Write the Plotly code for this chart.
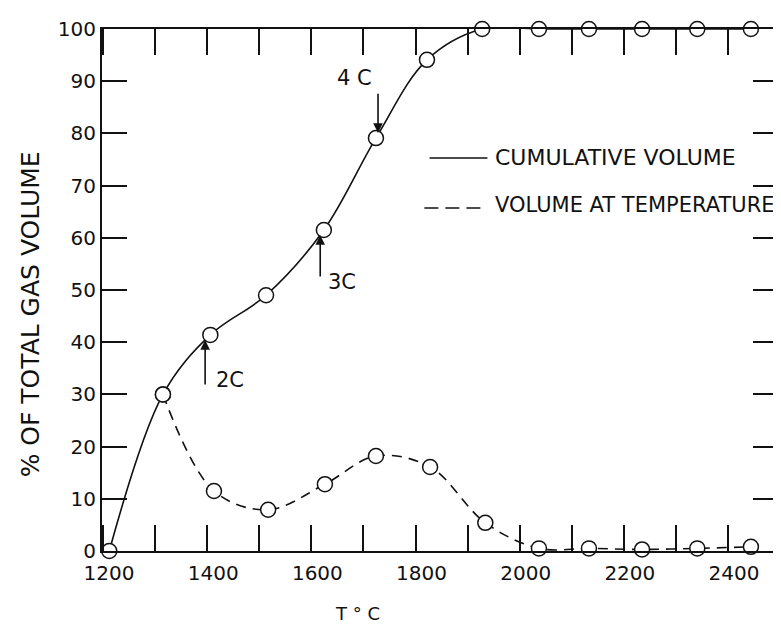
import plotly.graph_objects as go

# Cumulative gas volume (% of total) vs temperature
cum_temp = [1212, 1315, 1406, 1513, 1624, 1724, 1822, 1928, 2037, 2133, 2235, 2341, 2444]
cum_vol = [0, 30, 41.4, 49.0, 61.5, 79.1, 94.1, 100, 100, 100, 100, 100, 100]

# Volume released at each temperature
step_temp = [1315, 1413, 1517, 1626, 1724, 1828, 1934, 2037, 2133, 2235, 2341, 2444]
step_vol = [30, 11.5, 7.9, 12.8, 18.2, 16.1, 5.4, 0.5, 0.5, 0.3, 0.5, 0.8]

x_ticks = list(range(1200, 2500, 100))
x_labels = [str(v) if v % 200 == 0 else "" for v in x_ticks]
y_ticks = list(range(0, 101, 10))
y_labels = [str(v) for v in y_ticks]

# event markers: (label, arrow tip x, tip y, tail x, tail y, text x, text y)
events = [
    ("2C", 1396, 40.4, 1396, 31.6, 1444, 32.8),
    ("3C", 1617, 60.5, 1617, 52.3, 1659, 51.5),
    ("4 C", 1728, 80.1, 1728, 87.9, 1682, 90.6),
]

FONT = "DejaVu Sans"
BLACK = "#111111"

fig = go.Figure()
marker = dict(symbol="circle", size=15, color="white", line=dict(color=BLACK, width=1.5))
fig.add_trace(go.Scatter(x=cum_temp, y=cum_vol, mode="lines+markers",
                         line=dict(color=BLACK, width=1.6, shape="spline", smoothing=1.0),
                         marker=marker, cliponaxis=False, showlegend=False))
fig.add_trace(go.Scatter(x=step_temp, y=step_vol, mode="lines+markers",
                         line=dict(color=BLACK, width=1.6, shape="spline", smoothing=1.0, dash="10px,7px"),
                         marker=marker, cliponaxis=False, showlegend=False))

annotations = []
for lab, tx, ty, ax, ay, lx, ly in events:
    annotations.append(dict(x=tx, y=ty, ax=ax, ay=ay, xref="x", yref="y", axref="x", ayref="y",
                            text="", showarrow=True, arrowhead=2, arrowsize=1.2, arrowwidth=1.6,
                            arrowcolor=BLACK, standoff=0))
    annotations.append(dict(x=lx, y=ly, xref="x", yref="y", text=lab, showarrow=False,
                            font=dict(family=FONT, size=21, color=BLACK)))

# legend (hand drawn like the original)
annotations.append(dict(x=1949, y=75.3, xref="x", yref="y", text="CUMULATIVE VOLUME", showarrow=False,
                        xanchor="left", font=dict(family=FONT, size=22, color=BLACK)))
annotations.append(dict(x=1949, y=66.2, xref="x", yref="y", text="VOLUME AT TEMPERATURE", showarrow=False,
                        xanchor="left", font=dict(family=FONT, size=21, color=BLACK)))
annotations.append(dict(x=-0.106, y=0.454, xref="paper", yref="paper", text="% OF TOTAL GAS VOLUME",
                        textangle=-90, showarrow=False, xanchor="center", yanchor="middle",
                        font=dict(family=FONT, size=25, color=BLACK)))
annotations.append(dict(x=0.378, y=-0.12, xref="paper", yref="paper", text="T ° C",
                        showarrow=False, xanchor="center", yanchor="middle",
                        font=dict(family=FONT, size=18, color=BLACK)))

shapes = [
    dict(type="line", xref="x", yref="y", x0=1827, x1=1938, y0=75.3, y1=75.3,
         line=dict(color=BLACK, width=1.5)),
    dict(type="line", xref="x", yref="y", x0=1817, x1=1926, y0=65.7, y1=65.7,
         line=dict(color=BLACK, width=1.5, dash="14px,7px")),
]

fig.update_layout(
    width=781, height=625,
    margin=dict(l=94, r=9, t=21, b=82),
    paper_bgcolor="white", plot_bgcolor="white",
    annotations=annotations, shapes=shapes,
    font=dict(family=FONT, size=21, color=BLACK),
)
fig.update_xaxes(range=[1198, 2496], tickvals=x_ticks, ticktext=x_labels, ticklabelshift=6,
                 ticklabelstandoff=3,
                 ticks="inside", ticklen=26, tickwidth=2, tickcolor=BLACK,
                 showline=True, linewidth=2, linecolor=BLACK, mirror="ticks",
                 showgrid=False, zeroline=False, tickfont=dict(family=FONT, size=20, color=BLACK))
fig.update_yaxes(range=[0, 100], tickvals=y_ticks, ticktext=y_labels,
                 ticks="inside", ticklen=25, tickwidth=2, tickcolor=BLACK,
                 showline=True, linewidth=2, linecolor=BLACK, mirror="ticks",
                 showgrid=False, zeroline=False, tickfont=dict(family=FONT, size=20, color=BLACK))

fig.write_html("out.html")
